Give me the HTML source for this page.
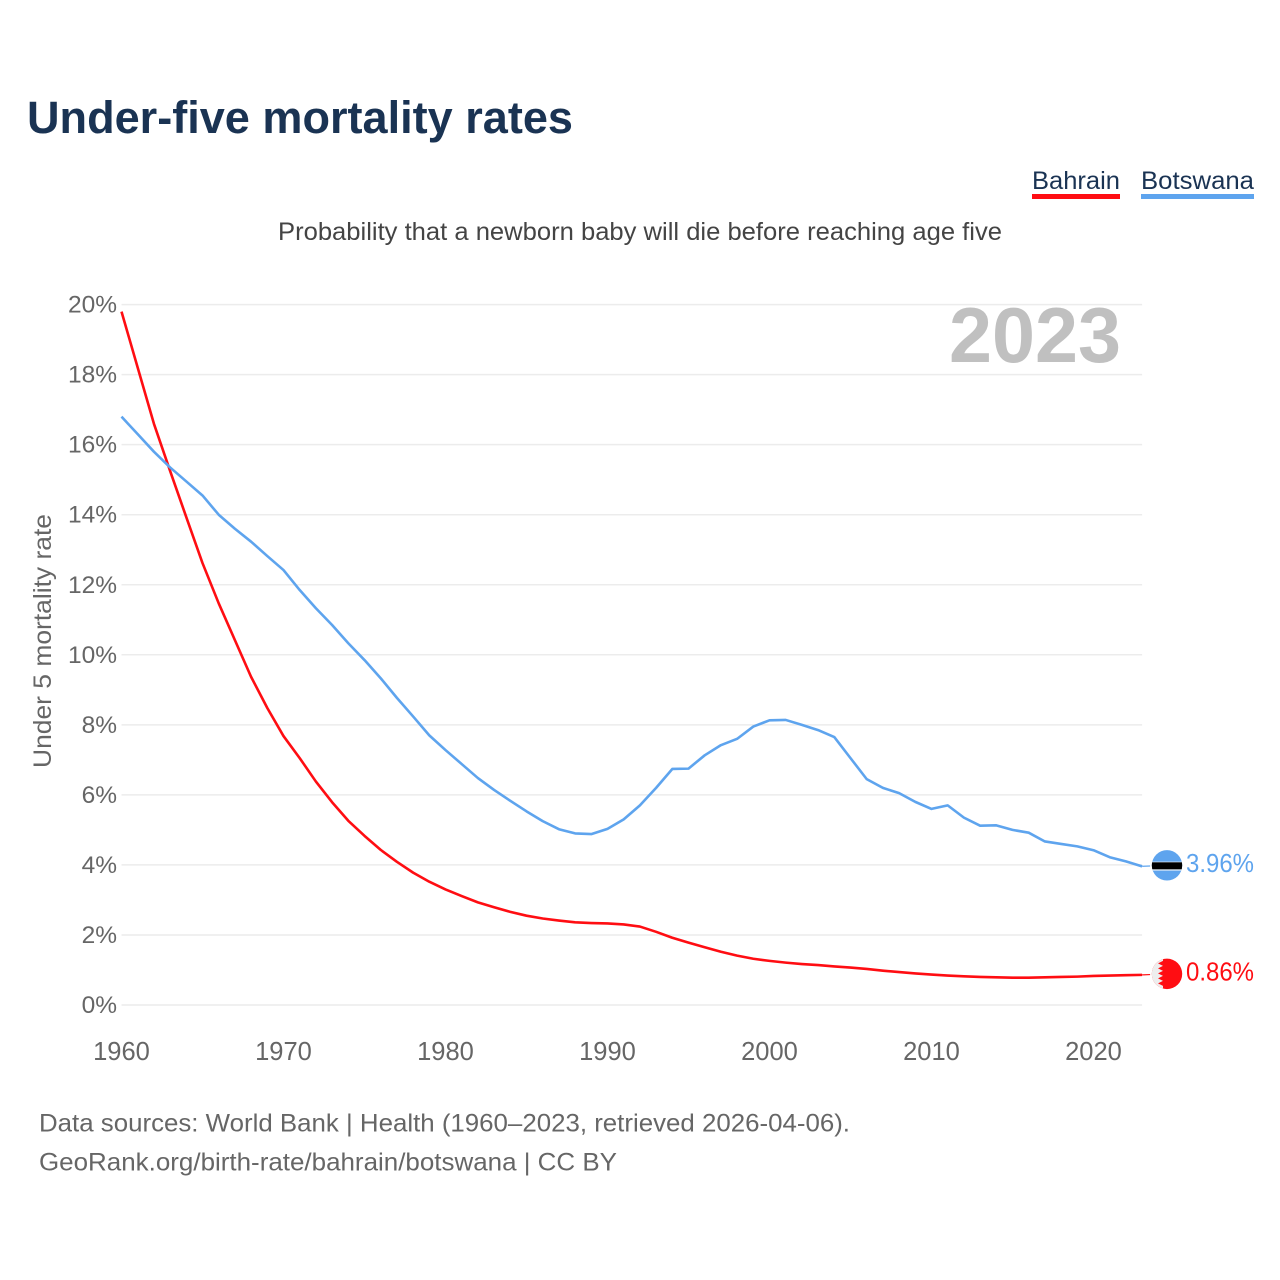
<!DOCTYPE html>
<html lang="en">
<head>
<meta charset="utf-8">
<title>Under-five mortality rates</title>
<style>
html,body{margin:0;padding:0;background:#fff;width:1280px;height:1280px;overflow:hidden}
svg{display:block;font-family:"Liberation Sans",sans-serif}
</style>
</head>
<body>
<svg id="chart" width="1280" height="1280" viewBox="0 0 1280 1280" xmlns="http://www.w3.org/2000/svg">
  <defs>
    <clipPath id="clip-bw"><circle cx="0" cy="0" r="15.2"/></clipPath>
  </defs>
  <text x="27" y="133" font-size="45" font-weight="700" fill="#1a3353" textLength="546" lengthAdjust="spacingAndGlyphs">Under-five mortality rates</text>

  <g>
    <text x="1032" y="189" font-size="25" fill="#1a3353" textLength="88" lengthAdjust="spacingAndGlyphs">Bahrain</text>
    <rect x="1032" y="194" width="88" height="5" fill="#ff0d12"/>
  </g>
  <g>
    <text x="1141" y="189" font-size="25" fill="#1a3353" textLength="113" lengthAdjust="spacingAndGlyphs">Botswana</text>
    <rect x="1141" y="194" width="113" height="5" fill="#5ea4ee"/>
  </g>

  <text x="278" y="240" font-size="25" fill="#444" textLength="724" lengthAdjust="spacingAndGlyphs">Probability that a newborn baby will die before reaching age five</text>

  <g id="grid"></g>
  <g id="yticks"></g>
  <g id="xticks"></g>

  <text x="1121" y="362" text-anchor="end" font-size="78" font-weight="700" fill="#c0c0c0" textLength="172" lengthAdjust="spacingAndGlyphs">2023</text>

  <text transform="translate(51,768) rotate(-90)" x="0" y="0" font-size="25" fill="#666" textLength="254" lengthAdjust="spacingAndGlyphs">Under 5 mortality rate</text>

  <g id="series"></g>
  <g id="markers"></g>

  <text x="39" y="1131.5" font-size="25" fill="#666" textLength="811" lengthAdjust="spacingAndGlyphs">Data sources: World Bank | Health (1960–2023, retrieved 2026-04-06).</text>
  <text x="39" y="1170.5" font-size="25" fill="#666" textLength="578" lengthAdjust="spacingAndGlyphs">GeoRank.org/birth-rate/bahrain/botswana | CC BY</text>
</svg>
<script>
const startYear = 1960;
const bahrainValues = [19.8,18.2,16.6,15.25,13.93,12.62,11.47,10.42,9.37,8.48,7.68,7.05,6.38,5.79,5.26,4.83,4.43,4.09,3.78,3.52,3.3,3.11,2.93,2.79,2.66,2.55,2.47,2.41,2.36,2.34,2.33,2.3,2.24,2.09,1.92,1.78,1.65,1.52,1.41,1.32,1.26,1.21,1.17,1.14,1.1,1.07,1.03,0.98,0.94,0.9,0.87,0.84,0.82,0.8,0.79,0.78,0.78,0.79,0.8,0.81,0.83,0.84,0.85,0.86];
const botswanaValues = [16.8,16.3,15.8,15.35,14.95,14.55,14.0,13.6,13.23,12.82,12.42,11.85,11.33,10.85,10.33,9.85,9.33,8.77,8.24,7.7,7.28,6.88,6.48,6.14,5.83,5.53,5.25,5.02,4.9,4.88,5.03,5.3,5.7,6.2,6.74,6.75,7.13,7.42,7.6,7.95,8.13,8.14,8.0,7.85,7.65,7.05,6.45,6.2,6.05,5.8,5.6,5.7,5.35,5.12,5.13,5.0,4.92,4.67,4.6,4.53,4.42,4.22,4.1,3.96];
const yTickValues = [0,2,4,6,8,10,12,14,16,18,20];
const xTickYears = [1960,1970,1980,1990,2000,2010,2020];
const bahrainLabel = "0.86%";
const botswanaLabel = "3.96%";

const NS = "http://www.w3.org/2000/svg";
function xScale(year){ return 121.5 + (year - 1960) * 16.2; }
function yScale(v){ return 1005 - v * 35.02; }
function mk(tag, attrs, parent){
  const el = document.createElementNS(NS, tag);
  for (const k in attrs) el.setAttribute(k, attrs[k]);
  parent.appendChild(el);
  return el;
}
function linePath(values){
  return values.map((v,i)=>(i?"L":"M")+xScale(startYear+i).toFixed(2)+" "+yScale(v).toFixed(2)).join(" ");
}

const gridG = document.getElementById("grid");
const yG = document.getElementById("yticks");
const xG = document.getElementById("xticks");
const seriesG = document.getElementById("series");
const markersG = document.getElementById("markers");
const lastYear = startYear + botswanaValues.length - 1;

yTickValues.forEach(v=>{
  const line = mk("line",{x1:xScale(1960),x2:xScale(lastYear),y1:yScale(v),y2:yScale(v),stroke:"#ececec","stroke-width":1.5},gridG);
  
  
  const t = mk("text",{x:117,y:yScale(v)+8,"text-anchor":"end","font-size":24.5,fill:"#666"},yG);
  t.textContent = v + "%";
  
  
});
xTickYears.forEach(yr=>{
  const t = mk("text",{x:xScale(yr),y:1060,"text-anchor":"middle","font-size":25.5,fill:"#666"},xG);
  t.textContent = yr;
  
  
});

const bahrainLine = mk("path",{d:linePath(bahrainValues),fill:"none",stroke:"#ff0d12","stroke-width":2.6,"stroke-linejoin":"round"},seriesG);


const botswanaLine = mk("path",{d:linePath(botswanaValues),fill:"none",stroke:"#5ea4ee","stroke-width":2.6,"stroke-linejoin":"round"},seriesG);



/* end markers follow the last value of each series */
const bwLast = botswanaValues[botswanaValues.length-1];
const bhLast = bahrainValues[bahrainValues.length-1];
const endX = xScale(lastYear);

const bwConn = mk("line",{x1:endX,x2:endX+8,y1:yScale(bwLast),y2:yScale(bwLast)-0.3,stroke:"#5ea4ee","stroke-width":1.2},markersG);


const bhConn = mk("line",{x1:endX,x2:endX+8,y1:yScale(bhLast),y2:yScale(bhLast)-0.3,stroke:"#ff0d12","stroke-width":1.2},markersG);



const bwFlag = mk("g",{transform:"translate(1167,"+(yScale(bwLast)-1)+")","clip-path":"url(#clip-bw)"},markersG);


mk("rect",{x:-16,y:-16,width:32,height:32,fill:"#5ea4ee"},bwFlag);
mk("rect",{x:-16,y:-3.7,width:32,height:9,fill:"#e4eef8"},bwFlag);
mk("rect",{x:-16,y:-3,width:32,height:7,fill:"#000"},bwFlag);

const bhFlag = mk("g",{transform:"translate(1167,"+(yScale(bhLast)-1)+")","clip-path":"url(#clip-bw)"},markersG);


mk("rect",{x:-16,y:-16,width:32,height:32,fill:"#ff0d12"},bhFlag);
mk("polygon",{points:"-16,-16 -4,-16 -4,-13 -9,-10.5 -4,-8 -9,-5.5 -4,-3 -9,-0.5 -4,2 -9,4.5 -4,7 -9,9.5 -4,12 -4,16 -16,16",fill:"#eeeeee"},bhFlag);

const bwText = mk("text",{x:1186,y:yScale(bwLast)+5.5,"font-size":26,fill:"#5ea4ee",textLength:68,lengthAdjust:"spacingAndGlyphs"},markersG);
bwText.textContent = botswanaLabel;


const bhText = mk("text",{x:1186,y:yScale(bhLast)+5.5,"font-size":26,fill:"#ff0d12",textLength:68,lengthAdjust:"spacingAndGlyphs"},markersG);
bhText.textContent = bahrainLabel;


</script>
</body>
</html>
